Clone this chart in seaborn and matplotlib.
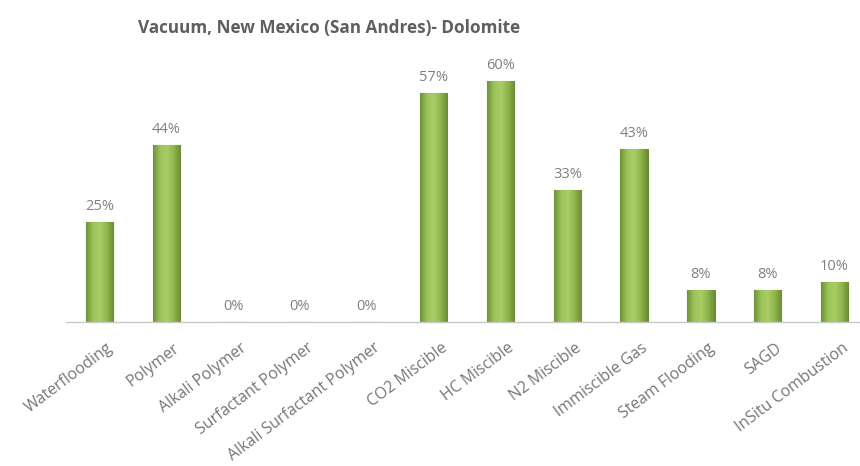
import numpy as np
import pandas as pd
import matplotlib
matplotlib.use("Agg")
import matplotlib.pyplot as plt
import matplotlib.transforms as mtransforms
import seaborn as sns
from matplotlib.colors import LinearSegmentedColormap

methods = ["Waterflooding", "Polymer", "Alkali Polymer", "Surfactant Polymer",
           "Alkali Surfactant Polymer", "CO2 Miscible", "HC Miscible", "N2 Miscible",
           "Immiscible Gas", "Steam Flooding", "SAGD", "InSitu Combustion"]
success_pct = [25, 44, 0, 0, 0, 57, 60, 33, 43, 8, 8, 10]
title_text = "Vacuum, New Mexico (San Andres)- Dolomite"

df = pd.DataFrame({"method": methods, "pct": success_pct})

sns.set_theme(style="white")
plt.rcParams["font.family"] = ["Open Sans", "DejaVu Sans"]

fig = plt.figure(figsize=(8.6, 4.66), dpi=100)
ax = fig.add_axes([66 / 860, 144 / 466, 802 / 860, 281 / 466])

sns.barplot(data=df, x="method", y="pct", color="#8cb14a", width=0.41,
            edgecolor="#6a8c35", linewidth=0.8, ax=ax)

# shaded cylinder-like fill for each bar
shade = LinearSegmentedColormap.from_list(
    "bar_shade", ["#6e9236", "#9cc35a", "#a9cd66", "#8fb54c", "#6a8d33"])
grad = np.linspace(0, 1, 64).reshape(1, -1)
for p in ax.patches:
    h = p.get_height()
    if h <= 0:
        continue
    x0 = p.get_x()
    w = p.get_width()
    im = ax.imshow(grad, cmap=shade, aspect="auto",
                   extent=[x0, x0 + w, 0, h], zorder=p.get_zorder() + 0.1)
    im.set_clip_path(p)

for i, v in enumerate(success_pct):
    ax.text(i, v + 2.0, f"{v}%", ha="center", va="bottom",
            fontsize=10.5, color="#808080")

ax.set_xlim(-0.5, 11.5)
ax.set_ylim(0, 70)
ax.set_xlabel("")
ax.set_ylabel("")
ax.set_yticks([])
for s in ["top", "right", "left"]:
    ax.spines[s].set_visible(False)
ax.spines["bottom"].set_color("#c8c8c8")
ax.spines["bottom"].set_linewidth(1.0)

ax.set_xticks(range(len(methods)))
ax.set_xticklabels(methods, rotation=37, ha="right", rotation_mode="anchor",
                   fontsize=11.4, color="#767676")
ax.tick_params(axis="x", length=0, pad=13)
shift = mtransforms.ScaledTranslation(7 / 100, 0, fig.dpi_scale_trans)
for lbl in ax.get_xticklabels():
    lbl.set_transform(lbl.get_transform() + shift)

fig.text(329 / 860, 1 - 28 / 466, title_text, ha="center", va="center",
         fontsize=12.3, fontweight="bold", color="#5f5f5f")

fig.savefig("out.png", dpi=100)
